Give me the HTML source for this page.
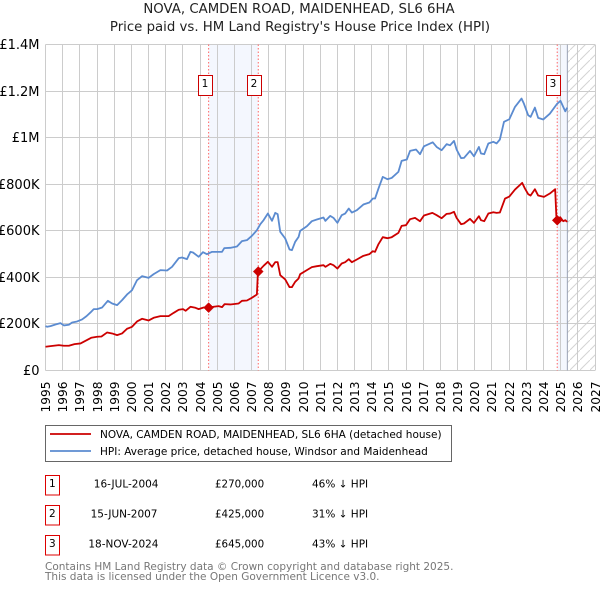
<!DOCTYPE html>
<html lang="en">
<head>
<meta charset="utf-8">
<title>NOVA, CAMDEN ROAD, MAIDENHEAD, SL6 6HA</title>
<style>
html,body{margin:0;padding:0;background:#fff}
svg{display:block}
text{font-family:"DejaVu Sans",sans-serif;fill:#000}
</style>
</head>
<body>
<svg id="chart" width="600" height="590" viewBox="0 0 600 590" xmlns="http://www.w3.org/2000/svg">
  <defs>
    <pattern id="hatch" patternUnits="userSpaceOnUse" width="10" height="10">
      <path d="M-1 11L11 -1" stroke="#d4d4d4" stroke-width="1" fill="none"/>
    </pattern>
  </defs>
  <text x="299" y="13" font-size="13.3" text-anchor="middle" style="fill:#222">NOVA, CAMDEN ROAD, MAIDENHEAD, SL6 6HA</text>
  <text x="300" y="31" font-size="13.3" text-anchor="middle" style="fill:#222">Price paid vs. HM Land Registry's House Price Index (HPI)</text>
  <g id="bands"></g>
  <g id="grid"></g>
  <g id="xlabels"></g>
  <g id="ylabels"></g>
  <g id="events"></g>
  <g id="series"></g>
  <g id="markers"></g>

  <g>
    <rect x="45.5" y="425.5" width="406" height="36" fill="#fff" stroke="#666" stroke-width="1"/>
    <line x1="50" x2="91" y1="434" y2="434" stroke="#cc0000" stroke-width="1.8"/>
    <text x="100" y="438" font-size="10.5">NOVA, CAMDEN ROAD, MAIDENHEAD, SL6 6HA (detached house)</text>
    <line x1="50" x2="91" y1="451" y2="451" stroke="#5b8bd0" stroke-width="1.8"/>
    <text x="100" y="455" font-size="10.5">HPI: Average price, detached house, Windsor and Maidenhead</text>
  </g>

  <g>
    <rect x="45.5" y="475.5" width="14" height="19.5" fill="#fff" stroke="#dd0000"/>
    <text x="52.3" y="487" text-anchor="middle" font-size="10.5">1</text>
    <text x="158.5" y="487.5" text-anchor="end" font-size="10.5">16-JUL-2004</text>
    <text x="215" y="487.5" font-size="10.3">£270,000</text>
    <text x="312" y="487.5" font-size="10.5">46% ↓ HPI</text>

    <rect x="45.5" y="505.5" width="14" height="19.5" fill="#fff" stroke="#dd0000"/>
    <text x="52.3" y="517" text-anchor="middle" font-size="10.5">2</text>
    <text x="157.5" y="517.5" text-anchor="end" font-size="10.5">15-JUN-2007</text>
    <text x="215" y="517.5" font-size="10.3">£425,000</text>
    <text x="312" y="517.5" font-size="10.5">31% ↓ HPI</text>

    <rect x="45.5" y="535.5" width="14" height="19.5" fill="#fff" stroke="#dd0000"/>
    <text x="52.3" y="547" text-anchor="middle" font-size="10.5">3</text>
    <text x="158.5" y="547.5" text-anchor="end" font-size="10.5">18-NOV-2024</text>
    <text x="215" y="547.5" font-size="10.3">£645,000</text>
    <text x="312" y="547.5" font-size="10.5">43% ↓ HPI</text>
  </g>

  <text x="45" y="570" font-size="10.5" style="fill:#777">Contains HM Land Registry data © Crown copyright and database right 2025.</text>
  <text x="45" y="580" font-size="10.5" style="fill:#777">This data is licensed under the Open Government Licence v3.0.</text>
</svg>

<script>
const yearTicks = [1995,1996,1997,1998,1999,2000,2001,2002,2003,2004,2005,2006,2007,2008,2009,2010,2011,2012,2013,2014,2015,2016,2017,2018,2019,2020,2021,2022,2023,2024,2025,2026,2027];
const valueTicks = [0,200,400,600,800,1000,1200,1400];
const valueTickLabels = ["£0","£200K","£400K","£600K","£800K","£1M","£1.2M","£1.4M"];

const hpiYears = [1995,1995.1,1995.29,1995.58,1995.87,1996.07,1996.36,1996.55,1996.84,1997.13,1997.39,1997.62,1997.81,1998.01,1998.3,1998.63,1998.88,1999.17,1999.46,1999.75,2000.04,2000.33,2000.62,2001.01,2001.3,2001.69,2002.08,2002.37,2002.76,2002.95,2003.24,2003.44,2003.59,2003.92,2004.17,2004.4,2004.7,2004.99,2005.28,2005.41,2005.76,2006.15,2006.44,2006.73,2007.02,2007.31,2007.51,2007.7,2007.95,2008.19,2008.38,2008.52,2008.67,2008.96,2009.21,2009.35,2009.54,2009.74,2009.83,2010.22,2010.51,2010.8,2011.19,2011.3,2011.58,2011.77,2012,2012.25,2012.45,2012.66,2012.84,2013.13,2013.51,2013.86,2014.06,2014.19,2014.39,2014.64,2014.91,2015.16,2015.55,2015.74,2016.04,2016.23,2016.58,2016.81,2017.04,2017.55,2017.78,2018.07,2018.36,2018.56,2018.79,2018.94,2019.2,2019.37,2019.72,2019.95,2020.24,2020.36,2020.55,2020.79,2021.08,2021.27,2021.46,2021.7,2022.01,2022.34,2022.72,2022.86,2023.11,2023.25,2023.5,2023.69,2023.99,2024.37,2024.8,2024.99,2025.15,2025.27,2025.38];
const hpiValues = [190.6,187.7,190.6,197.7,203.5,193.5,196.3,206.3,210.6,219.2,233.5,249.3,263.6,263.6,270.7,299.3,287.9,280.7,302.2,326.5,345.1,388,405.2,398,413.8,431,429.5,445.3,482.4,485.3,478.2,509.6,506.8,488.2,508.2,499.6,509.6,509.6,509.6,525.4,526.8,532.5,555.4,559.7,578.3,602.6,628.4,645.6,674.2,642.7,677,671.3,595.5,566.9,519.7,516.8,552.6,574,599.7,619.7,641.2,648.3,656.9,642.6,664,655.5,634,667,674,695.6,678.4,688.4,712.7,721.3,738.5,738.5,781.4,831.5,821.5,827,853,900,906,943,949,929,963,980,960,946,972,967,986,949,912,913,943,920,960,932,929,975,982,975,992,1068,1079,1132,1168,1146,1096,1089,1129,1085,1078,1103,1146,1158,1132,1113,1129];

const priceYears = [1995,1995.29,1995.78,1996.07,1996.36,1996.69,1997.04,1997.33,1997.66,1998.01,1998.26,1998.59,1998.88,1999.17,1999.46,1999.75,2000.04,2000.33,2000.62,2001.01,2001.3,2001.69,2002.17,2002.47,2002.76,2003.01,2003.16,2003.44,2003.73,2003.92,2004.21,2004.5,2004.79,2005.08,2005.28,2005.43,2005.76,2006.25,2006.44,2006.73,2007.02,2007.31,2007.37,2007.41,2007.7,2007.95,2008.19,2008.38,2008.52,2008.67,2008.96,2009.21,2009.35,2009.54,2009.74,2009.83,2010.22,2010.51,2010.8,2011.19,2011.3,2011.58,2011.77,2012,2012.25,2012.45,2012.66,2012.84,2013.13,2013.51,2013.86,2014.06,2014.19,2014.39,2014.64,2014.91,2015.16,2015.55,2015.74,2015.99,2016.23,2016.52,2016.81,2017.04,2017.53,2017.78,2018.07,2018.36,2018.56,2018.79,2018.94,2019.2,2019.37,2019.72,2019.95,2020.24,2020.36,2020.55,2020.79,2021.08,2021.27,2021.46,2021.76,2022.01,2022.34,2022.76,2022.92,2023.11,2023.25,2023.5,2023.69,2024.03,2024.37,2024.68,2024.76,2024.86,2024.97,2025.15,2025.27,2025.38];
const priceValues = [101.9,104.7,109,106.2,106.2,113.3,116.2,127.6,140.5,144.8,146.2,163.4,159.1,152,159.1,179.2,187.7,210.6,222,214.9,226.4,233.5,233.5,247.8,260.7,263.6,256.4,273.6,269.3,263.6,270.7,270.7,273.6,276.4,272.1,285,283.6,287.9,299.3,300.7,312.2,326.5,423.8,426.6,449.6,466.7,445.3,465.3,465.3,409.5,390.9,358,358,380.9,395.2,413.7,430.9,443.8,448,452.3,445.2,458,452.3,438,459.5,465.2,478.1,465.2,476.7,492.4,499.6,512.4,509.6,542.5,572.5,568.2,572.5,591.1,621.2,624,649.8,655.5,641.2,665.5,677,667,654,672.7,674,681.3,655.5,628.3,631.2,651.2,634,662.7,645.5,641.2,674,679.8,677,678.4,738.5,747,777.1,805.7,781.4,757.1,751.4,778.5,751.4,745.6,760,778.5,645.5,645,658.4,641.2,645.5,638.3];

const saleLabels = ["1","2","3"];
const saleYears = [2004.5,2007.39,2024.8];
const salePrices = [270,425,645];
const forecastStart = 2025.39;

const SVGNS = "http://www.w3.org/2000/svg";
const plotLeft = 45.5, plotRight = 595, plotTop = 44.5, plotBottom = 370.5;
const xMin = 1995, xMax = 2027, yMin = 0, yMax = 1400;
function xScale(v){ return plotLeft + (v - xMin) / (xMax - xMin) * (plotRight - plotLeft); }
function yScale(v){ return plotBottom - (v - yMin) / (yMax - yMin) * (plotBottom - plotTop); }
function make(parentId, tag, attrs){
  const el = document.createElementNS(SVGNS, tag);
  for (const k in attrs) el.setAttribute(k, attrs[k]);
  document.getElementById(parentId).appendChild(el);
  return el;
}
function pathFrom(xs, ys){
  return xs.map(function(x, i){ return (i ? "L" : "M") + xScale(x).toFixed(2) + " " + yScale(ys[i]).toFixed(2); }).join("");
}

// shaded bands
const band1 = make("bands", "rect", {x: xScale(saleYears[0]), y: plotTop, width: xScale(saleYears[1]) - xScale(saleYears[0]), height: plotBottom - plotTop, fill: "#f4f7fe"});


const band2 = make("bands", "rect", {x: xScale(saleYears[2]), y: plotTop, width: xScale(forecastStart) - xScale(saleYears[2]), height: plotBottom - plotTop, fill: "#f4f7fe"});


const hatch = make("bands", "rect", {x: xScale(forecastStart), y: plotTop, width: plotRight - xScale(forecastStart), height: plotBottom - plotTop, fill: "url(#hatch)"});



// grid and ticks
yearTicks.forEach(function(yr){
  const x = Math.round(xScale(yr) - 0.5) + 0.5;
  const gl = make("grid", "line", {x1: x, x2: x, y1: plotTop, y2: plotBottom, stroke: "#cccccc", "stroke-width": 1});
  
  
  const t = make("xlabels", "text", {transform: "translate(" + (x + 4.5) + ",381.5) rotate(-90)", "text-anchor": "end", "font-size": 12.2});
  
  
  t.textContent = yr;
});
valueTicks.forEach(function(v, i){
  const y = Math.round(yScale(v) - 0.5) + 0.5;
  const gl = make("grid", "line", {x1: plotLeft, x2: plotRight, y1: y, y2: y, stroke: "#cccccc", "stroke-width": 1});
  
  
  const t = make("ylabels", "text", {x: 39.5, y: y + 4.5, "text-anchor": "end", "font-size": 13});
  
  
  t.textContent = valueTickLabels[i];
});

// forecast boundary
const fb = make("events", "line", {x1: xScale(forecastStart), x2: xScale(forecastStart), y1: plotTop, y2: plotBottom, stroke: "#9aa3b5", "stroke-width": 1});



// sale event lines
saleYears.forEach(function(yr){
  const x = xScale(yr);
  const l = make("events", "line", {x1: x, x2: x, y1: plotTop, y2: plotBottom, stroke: "#ff6666", "stroke-width": 1, "stroke-dasharray": "1.5 2"});
  
  
});

// series
const hpiLine = make("series", "path", {d: pathFrom(hpiYears, hpiValues), fill: "none", stroke: "#5b8bd0", "stroke-width": 1.8, "stroke-linejoin": "round"});


const priceLine = make("series", "path", {d: pathFrom(priceYears, priceValues), fill: "none", stroke: "#cc0000", "stroke-width": 1.8, "stroke-linejoin": "round"});



// markers and badges
saleYears.forEach(function(yr, i){
  const cx = xScale(yr), cy = yScale(salePrices[i]);
  const m = make("markers", "path", {d: "M" + (cx - 5) + " " + cy + "L" + cx + " " + (cy - 5) + "L" + (cx + 5) + " " + cy + "L" + cx + " " + (cy + 5) + "Z", fill: "#cc0000", stroke: "#cc0000", "stroke-width": 0.5, "stroke-linejoin": "round"});
  
  
  const b = make("markers", "rect", {x: Math.round(cx) - 11 + 0.5, y: 75.5, width: 14, height: 20, fill: "#fff", stroke: "#cc0000", "stroke-width": 1});
  
  
  const t = make("markers", "text", {x: Math.round(cx) - 4, y: 87, "text-anchor": "middle", "font-size": 10.5});
  
  
  t.textContent = saleLabels[i];
});
</script>
</body>
</html>
